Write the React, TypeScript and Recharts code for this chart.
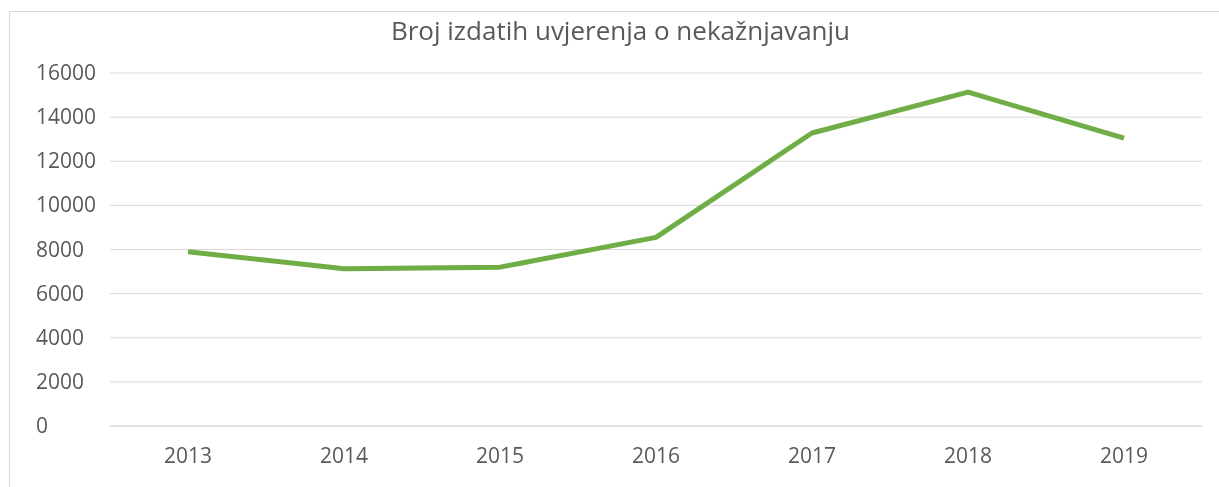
import React from 'react';
import { LineChart, Line, XAxis, YAxis, CartesianGrid } from 'recharts';

const years = ['2013', '2014', '2015', '2016', '2017', '2018', '2019'];
const certificates = [7900, 7130, 7200, 8550, 13280, 15130, 13050];
const yTicks = [0, 2000, 4000, 6000, 8000, 10000, 12000, 14000, 16000];

const data = years.map((year, i) => ({ year, count: certificates[i] }));

const FONT = '"Open Sans", "Liberation Sans", sans-serif';
const TEXT = '#595959';

const YTick = (props: any) => {
  const { y, payload } = props;
  return (
    <text x={28} y={y} dy={7} textAnchor="start" fill={TEXT} fontSize={21} fontFamily={FONT}>
      {payload.value}
    </text>
  );
};

const XTick = (props: any) => {
  const { x, payload } = props;
  return (
    <text x={x} y={448} dy={7} textAnchor="middle" fill={TEXT} fontSize={21} fontFamily={FONT}>
      {payload.value}
    </text>
  );
};

export default function App() {
  return (
    <div style={{ position: 'relative', width: 1203, height: 471, background: '#fff' }}>
      {/* chart-area frame: only top and left edges fall inside the window */}
      <div
        style={{
          position: 'fixed',
          left: 9,
          top: 11,
          width: 1210,
          height: 476,
          borderTop: '1px solid #D9D9D9',
          borderLeft: '1px solid #D9D9D9',
          boxSizing: 'border-box',
        }}
      />
      <div
        style={{
          position: 'absolute',
          left: 0,
          top: 6,
          width: 1203,
          paddingLeft: 22,
          boxSizing: 'border-box',
          textAlign: 'center',
          fontFamily: FONT,
          fontSize: 26,
          color: TEXT,
          lineHeight: '32px',
        }}
      >
        Broj izdatih uvjerenja o nekažnjavanju
      </div>
      <div style={{ position: 'absolute', left: 0, top: 0 }}>
        <LineChart width={1203} height={471} data={data} margin={{ top: 65, right: 9, left: 0, bottom: 0 }}>
          <CartesianGrid vertical={false} stroke="#D9D9D9" strokeWidth={1} />
          <XAxis
            dataKey="year"
            height={53}
            padding={{ left: 78, right: 78 }}
            axisLine={{ stroke: '#D9D9D9' }}
            tickLine={false}
            tick={<XTick />}
          />
          <YAxis
            width={102}
            domain={[0, 16000]}
            ticks={yTicks}
            axisLine={false}
            tickLine={false}
            tick={<YTick />}
          />
          <Line
            type="linear"
            dataKey="count"
            stroke="#70AD47"
            strokeWidth={5}
            strokeLinejoin="round"
            dot={false}
            activeDot={false}
            isAnimationActive={false}
          />
        </LineChart>
      </div>
    </div>
  );
}
